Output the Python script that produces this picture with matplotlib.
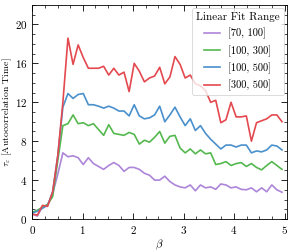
import numpy as np
import matplotlib

matplotlib.use('Agg')
import matplotlib.pyplot as plt
from matplotlib.ticker import MultipleLocator

plt.rcParams['font.family'] = 'serif'
plt.rcParams['font.serif'] = ['cmr10', 'DejaVu Serif']
plt.rcParams['mathtext.fontset'] = 'cm'
plt.rcParams['axes.formatter.use_mathtext'] = True

# beta grid (50 points)
beta = np.linspace(0.0, 4.95, 50)

tau_70_100 = [0.5, 0.3, 1.3, 1.4, 2.6, 4.6, 6.8, 6.4, 6.5, 6.3,
              5.6, 6.3, 5.7, 5.4, 5.1, 5.5, 5.8, 5.5, 4.9, 5.3,
              5.3, 5.1, 4.7, 4.5, 4.0, 4.0, 4.4, 3.85, 3.5, 3.3,
              3.2, 3.5, 2.9, 3.5, 3.2, 3.3, 3.05, 3.6, 3.5, 3.2,
              3.3, 3.05, 3.0, 3.2, 2.8, 3.2, 2.8, 3.5, 3.0, 2.75]
tau_100_300 = [0.7, 0.9, 1.2, 1.5, 2.3, 6.0, 9.6, 9.8, 10.7, 9.8,
               9.9, 9.6, 9.8, 9.2, 8.6, 9.7, 8.8, 8.7, 8.6, 8.9,
               8.7, 7.7, 8.1, 7.9, 8.4, 9.0, 7.8, 8.5, 8.6, 7.3,
               6.8, 7.2, 6.7, 7.1, 6.7, 6.8, 5.6, 5.7, 5.9, 5.5,
               5.7, 5.8, 5.4, 5.7, 5.3, 5.05, 5.5, 5.9, 5.5, 5.1]
tau_100_500 = [0.6, 0.8, 1.1, 1.4, 2.8, 6.5, 11.5, 12.9, 12.4, 12.8,
               12.9, 11.75, 11.75, 11.6, 11.4, 11.6, 11.4, 11.1, 11.1, 10.6,
               11.75, 10.6, 10.3, 10.4, 10.7, 11.6, 10.0, 10.7, 11.5, 10.5,
               9.6, 10.3, 9.1, 9.6, 8.8, 8.2, 7.7, 7.2, 7.6, 7.6,
               7.4, 7.6, 7.6, 6.8, 7.0, 6.9, 7.1, 7.6, 7.5, 7.1]
tau_300_500 = [0.5, 0.4, 1.4, 1.3, 2.8, 6.5, 12.0, 18.6, 15.9, 17.9,
               16.6, 15.5, 15.5, 15.5, 15.7, 14.8, 15.5, 14.8, 15.1, 13.1,
               16.0, 15.2, 14.1, 14.5, 14.7, 15.6, 13.9, 14.6, 16.7, 15.9,
               14.5, 14.8, 13.9, 13.7, 13.2, 12.0, 12.2, 9.9, 10.2, 12.0,
               10.5, 10.5, 10.6, 8.0, 9.9, 10.1, 10.3, 10.7, 10.7, 10.0]

labels = ['[70, 100]', '[100, 300]', '[100, 500]', '[300, 500]']
colors = ['#ad85d9', '#55b84f', '#4a90cc', '#e3494f']
series = [tau_70_100, tau_100_300, tau_100_500, tau_300_500]

fig = plt.figure(figsize=(2.99, 2.52), dpi=100)
ax = fig.add_axes([0.108, 0.131, 0.852, 0.849])

for tau, lab, col in zip(series, labels, colors):
    ax.plot(beta, tau, color=col, linewidth=1.2, label=lab)

ax.set_xlim(0, 5.05)
ax.set_ylim(0, 22)
ax.xaxis.set_major_locator(MultipleLocator(1))
ax.xaxis.set_minor_locator(MultipleLocator(0.25))
ax.yaxis.set_major_locator(MultipleLocator(4))
ax.yaxis.set_minor_locator(MultipleLocator(1))
ax.tick_params(which='both', direction='in', top=True, right=True, labelsize=8)
ax.tick_params(which='major', length=4, width=0.6)
ax.tick_params(which='minor', length=2, width=0.5)
for sp in ax.spines.values():
    sp.set_linewidth(0.6)

ax.set_xlabel(r'$\beta$', fontsize=8, labelpad=1)
ax.set_ylabel(r'$\tau_\varepsilon$ [Autocorrelation Time]', fontsize=7)
ax.yaxis.set_label_coords(-0.07, 0.5)

leg = ax.legend(title='Linear Fit Range', loc='upper right', fontsize=7.5,
                title_fontsize=8, handlelength=1.5, labelspacing=0.55,
                borderaxespad=0.3)
leg.get_frame().set_linewidth(0.6)

fig.savefig('out.png', dpi=100)
plt.close(fig)
